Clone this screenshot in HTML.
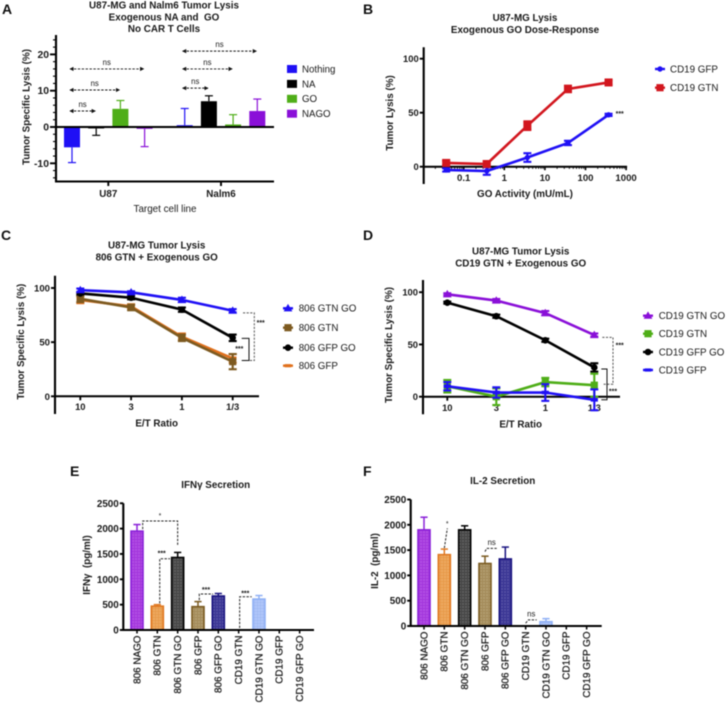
<!DOCTYPE html>
<html lang="en">
<head>
<meta charset="utf-8">
<title>Tumor lysis and cytokine secretion figure</title>
<style>
  html, body { margin: 0; padding: 0; background: #fff; }
  #figure { display: block; width: 726px; height: 703px; filter: blur(0.4px); }
  text { font-family: "Liberation Sans", sans-serif; fill: #1a1a1a; }
  .t { font-weight: 700; font-size: 9.85px; text-anchor: middle; }
  .l { font-weight: 700; font-size: 14px; fill: #111; }
</style>
</head>
<body>
<svg id="figure" xmlns="http://www.w3.org/2000/svg" width="726" height="703" viewBox="0 0 726 703">
  <defs>
    <marker id="arrow" viewBox="0 0 6 6" refX="5" refY="3" markerWidth="4.5" markerHeight="4.5" orient="auto-start-reverse">
      <path d="M0 0L6 3L0 6Z" fill="#111"></path>
    </marker>
    <pattern id="tex" width="3" height="3" patternUnits="userSpaceOnUse">
      <circle cx="1" cy="1" r="0.6" fill="#fff" fill-opacity="0.22"></circle>
      <circle cx="2.5" cy="2.5" r="0.4" fill="#000" fill-opacity="0.1"></circle>
    </pattern>
  </defs>
  <rect width="726" height="703" fill="#fff"></rect>

  <text class="l" x="2" y="14">A</text>
  <text class="l" x="363" y="14">B</text>
  <text class="l" x="1" y="240">C</text>
  <text class="l" x="363" y="240">D</text>
  <text class="l" x="70" y="476">E</text>
  <text class="l" x="363" y="476">F</text>

  <text class="t" x="164" y="8.5">U87-MG and Nalm6 Tumor Lysis</text>
  <text class="t" x="164" y="20.5" xml:space="preserve">Exogenous NA and  GO</text>
  <text class="t" x="164" y="32">No CAR T Cells</text>
  <text class="t" x="525" y="21">U87-MG Lysis</text>
  <text class="t" x="525" y="33">Exogenous GO Dose-Response</text>
  <text class="t" x="156.7" y="248.7">U87-MG Tumor Lysis</text>
  <text class="t" x="156.7" y="260.5">806 GTN + Exogenous GO</text>
  <text class="t" x="520.7" y="254.7">U87-MG Tumor Lysis</text>
  <text class="t" x="520.7" y="266.3">CD19 GTN + Exogenous GO</text>
  <text class="t" x="215.7" y="488">IFNγ Secretion</text>
  <text class="t" x="502.7" y="484">IL-2 Secretion</text>

  <text class="t" transform="translate(29.5 107) rotate(-90)">Tumor Specific Lysis (%)</text>
  <text class="t" x="165" y="212" style="font-weight:400">Target cell line</text>
  <text class="t" transform="translate(393 113) rotate(-90)">Tumor Lysis (%)</text>
  <text class="t" x="525" y="197">GO Activity (mU/mL)</text>
  <text class="t" transform="translate(24 341.7) rotate(-90)">Tumor Specific Lysis (%)</text>
  <text class="t" x="156.7" y="426.7">E/T Ratio</text>
  <text class="t" transform="translate(392 345) rotate(-90)">Tumor Specific Lysis (%)</text>
  <text class="t" x="520.7" y="427.7">E/T Ratio</text>
  <text class="t" transform="translate(90 565) rotate(-90)" xml:space="preserve">IFNγ  (pg/ml)</text>
  <text class="t" transform="translate(378 561) rotate(-90)" xml:space="preserve">IL-2  (pg/ml)</text>

  <g id="chart-layer"></g>
</svg>

<script>
/* ---------- Panel A data ---------- */
const aCategories = ['U87', 'Nalm6'];
const aSeriesNames = ['Nothing', 'NA', 'GO', 'NAGO'];
const aSeriesColors = ['#1f10f5', '#000000', '#4fae18', '#8a10d8'];
const aNothing = [-5.6, 0.5];
const aNA = [-0.4, 7.1];
const aGO = [5.0, 0.7];
const aNAGO = [-0.5, 4.4];
const aNothingErr = [4.2, 4.6];
const aNAErr = [1.9, 1.5];
const aGOErr = [2.3, 2.7];
const aNAGOErr = [4.9, 3.3];
const aTicks = [20, 10, 0, -10];

/* ---------- Panel B data ---------- */
const bDoses = [0.037, 0.37, 3.7, 37, 370];
const bGFP = [-3, -4, 8.5, 22, 48];
const bGFPErr = [1.5, 3.5, 4, 2, 1];
const bGTN = [3.5, 2.5, 38, 72, 78];
const bGTNErr = [2, 2.5, 4, 3, 2];
const bYTicks = [100, 50, 0];
const bXTicks = [0.1, 1, 10, 100, 1000];

/* ---------- Panel C data ---------- */
const cCategories = ['10', '3', '1', '1/3'];
const cGTNGO = [98, 96, 89, 79];
const cGTNGOErr = [1.5, 1, 2, 1.5];
const cGTN = [90, 82, 54, 32];
const cGTNErr = [3, 2.5, 3, 7];
const cGFPGO = [95, 91, 80, 54];
const cGFPGOErr = [1, 1.5, 2, 3];
const cGFP = [89, 83, 55, 35];
const cGFPErr = [3, 2, 3, 4];
const cYTicks = [100, 50, 0];

/* ---------- Panel D data ---------- */
const dCategories = ['10', '3', '1', '1/3'];
const dGTNGO = [98, 92, 80, 59];
const dGTNGOErr = [1, 1.5, 2, 1.5];
const dGTN = [10, 0, 14, 11];
const dGTNErr = [6, 8, 4, 11];
const dGFPGO = [90, 77, 54, 28];
const dGFPGOErr = [1, 1.5, 1.5, 4];
const dGFP = [10, 4, 4, -3];
const dGFPErr = [4, 5, 8, 10];
const dYTicks = [100, 50, 0];

/* ---------- Panels E and F data ---------- */
const secretionCategories = ['806 NAGO', '806 GTN', '806 GTN GO', '806 GFP', '806 GFP GO', 'CD19 GTN', 'CD19 GTN GO', 'CD19 GFP', 'CD19 GFP GO'];
const secretionFills = ['#a83ce0', '#eb9f50', '#4a4a4a', '#a8905f', '#3f3a98', '#a8c0f8', '#a8c0f8', '#a8c0f8', '#000000'];
const secretionEdges = ['#8a20d8', '#e07820', '#000000', '#7a5a20', '#1a1480', '#000000', '#8fb0f5', '#000000', '#000000'];
const eValues = [1950, 470, 1430, 460, 670, 0, 610, 0, 0];
const eErrors = [130, 30, 100, 100, 50, 0, 70, 0, 0];
const fValues = [1900, 1410, 1900, 1235, 1325, 0, 85, 0, 0];
const fErrors = [250, 110, 80, 145, 235, 0, 60, 0, 0];
const secretionTicks = [2500, 2000, 1500, 1000, 500, 0];

/* ---------- Axis functions ---------- */
const yA = v => 127 - v * 3.63;
const xA = (g, i) => 72 + g * 112.7 + i * 24.2;
const yB = v => 166.7 - v * 1.08;
const xB = d => 504.3 + 40.6 * Math.log10(d);
const yC = v => 396.3 - v * 1.083;
const xC = i => 80.3 + i * 50.8;
const yD = v => 396.7 - v * 1.045;
const xD = i => 447.3 + i * 49;
const yE = v => 630 - v * 0.0507;
const xE = i => 137 + i * 20.33;
const yF = v => 626 - v * 0.0506;
const xF = i => 424 + i * 20.33;

/* ---------- Drawing helpers ---------- */
const NS = 'http://www.w3.org/2000/svg';
const root = document.getElementById('chart-layer');

function mk(tag, attrs) {
  const el = document.createElementNS(NS, tag);
  for (const k in attrs) el.setAttribute(k, attrs[k]);
  root.appendChild(el);
  return el;
}
function seg(x1, y1, x2, y2, stroke, w, dash) {
  const a = { x1: x1, y1: y1, x2: x2, y2: y2, stroke: stroke, 'stroke-width': w };
  if (dash) a['stroke-dasharray'] = dash;
  return mk('line', a);
}
function label(x, y, s, size, weight, anchor) {
  const t = mk('text', { x: x, y: y, 'font-size': size, 'font-weight': weight, 'text-anchor': anchor });
  t.textContent = s;
  return t;
}

function yAxis(panel, x, top, bottom, scale, ticks, tickLen, fontSize) {
  const axis = seg(x, top, x, bottom, '#000', 2.1);
  
  
  ticks.forEach(v => {
    const tick = seg(x - tickLen, scale(v), x, scale(v), '#000', 1.9);
    
    
    const lab = label(x - tickLen - 1, scale(v) + 3.5, String(v), fontSize, 700, 'end');
    
    
  });
}

function marker(shape, x, y, color, size) {
  let m;
  if (shape === 'square') {
    m = mk('rect', { x: x - size, y: y - size, width: size * 2, height: size * 2, fill: color });
  } else if (shape === 'triangle') {
    const pts = [[0, -size * 1.15], [size * 1.15, size * 0.8], [-size * 1.15, size * 0.8]];
    m = mk('polygon', { points: pts.map(p => (x + p[0]) + ',' + (y + p[1])).join(' '), fill: color });
  } else if (shape === 'dash') {
    m = mk('rect', { x: x - size, y: y - size / 2, width: size * 2, height: size, fill: color });
  } else {
    m = mk('circle', { cx: x, cy: y, r: size, fill: color });
  }
  return m;
}

function lineSeries(name, xs, values, errors, yScale, color, shape, size) {
  const path = mk('polyline', {
    points: values.map((v, i) => xs[i] + ',' + yScale(v)).join(' '),
    fill: 'none', stroke: color, 'stroke-width': 2.6
  });
  
  
  values.forEach((v, i) => {
    const whisker = seg(xs[i], yScale(v - errors[i]), xs[i], yScale(v + errors[i]), color, 2.1);
    
    
    const capHi = seg(xs[i] - 4, yScale(v + errors[i]), xs[i] + 4, yScale(v + errors[i]), color, 2.1);
    
    
    const capLo = seg(xs[i] - 4, yScale(v - errors[i]), xs[i] + 4, yScale(v - errors[i]), color, 2.1);
    
    
    const pt = marker(shape, xs[i], yScale(v), color, size);
    
    
  });
}

function lineLegend(name, lineX, textX, y, text, color, shape, size) {
  const ln = seg(lineX, y, lineX + 10, y, color, 2.4);
  
  
  const mkr = marker(shape, lineX + 5, y, color, size);
  
  
  const t = label(textX, y + 3.4, text, 9.8, 400, 'start');
  
  
}

function note(x, y, s, size) {
  const t = label(x, y, s, size, 400, 'middle');
  
  
}
function stars(x, y) {
  const t = label(x, y + 3, '***', 7, 700, 'middle');
  
  
}
function bracket(pts, color, dash, w) {
  const p = mk('polyline', {
    points: pts.map(q => q[0] + ',' + q[1]).join(' '),
    fill: 'none', stroke: color, 'stroke-width': w
  });
  if (dash) p.setAttribute('stroke-dasharray', dash);
  
  
}

/* ---------- Panel A ---------- */
(function () {
  const series = [aNothing, aNA, aGO, aNAGO];
  const errs = [aNothingErr, aNAErr, aGOErr, aNAGOErr];
  for (let v = -14; v <= 24; v += 2) {
    const minor = seg(53, yA(v), 56, yA(v), '#000', 1.1);
    
    
  }
  yAxis('panel-a', 56, 35, 182, yA, aTicks, 6, 10.4);
  const base = seg(55, 181.5, 274, 181.5, '#000', 2);
  
  
  aCategories.forEach((c, g) => {
    const cx = (xA(g, 1) + xA(g, 2)) / 2;
    const tick = seg(cx, 181.5, cx, 186, '#000', 1.9);
    
    
    const lab = label(cx, 197, c, 9.8, 700, 'middle');
    
    
    series.forEach((s, i) => {
      const x = xA(g, i), v = s[g], e = errs[i][g], color = aSeriesColors[i];
      const tip = v >= 0 ? v + e : v - e;
      const whisker = seg(x, yA(v), x, yA(tip), color, 1.2);
      
      
      const cap = seg(x - 4, yA(tip), x + 4, yA(tip), color, 1.2);
      
      
      const bar = mk('rect', {
        x: x - 8, y: Math.min(yA(v), yA(0)), width: 16,
        height: Math.abs(yA(v) - yA(0)), fill: color
      });
      
      
    });
  });
  const zero = seg(55, yA(0), 274, yA(0), '#000', 2);
  
  

  aSeriesNames.forEach((n, i) => {
    const y = 69 + i * 14.9;
    const sw = mk('rect', { x: 287, y: y - 4, width: 10, height: 8, fill: aSeriesColors[i] });
    
    
    const t = label(302, y + 3.4, n, 9.7, 400, 'start');
    
    
  });

  const arrows = [
    [0, 0, 1, 4.4], [0, 0, 2, 10.2], [0, 0, 3, 16],
    [1, 0, 1, 10.7], [1, 0, 2, 16], [1, 0, 3, 20.9]
  ];
  arrows.forEach(a => {
    const x1 = xA(a[0], a[1]) - 2, x2 = xA(a[0], a[2]) - 1, y = yA(a[3]);
    const ar = seg(x1, y, x2, y, '#111', 0.95, '2.4 1.5');
    ar.setAttribute('marker-start', 'url(#arrow)');
    ar.setAttribute('marker-end', 'url(#arrow)');
    
    
    note((x1 + x2) / 2, y - 4, 'ns', 7.8);
  });
})();

/* ---------- Panel B ---------- */
(function () {
  const x0 = xB(0.01), x1 = xB(1000);
  yAxis('panel-b', 423.7, 47.3, 184, yB, bYTicks, 4, 9.4);
  const ax = seg(x0, yB(0), x1 + 1, yB(0), '#000', 2);
  
  
  for (let dec = 0.01; dec < 999; dec *= 10) {
    for (let m = 2; m <= 9; m++) {
      const minor = seg(xB(dec * m), yB(0), xB(dec * m), yB(0) + 2.2, '#000', 0.9);
      
      
    }
  }
  bXTicks.forEach(d => {
    const tick = seg(xB(d), yB(0), xB(d), yB(0) + 3.5, '#000', 1.6);
    
    
    const lab = label(xB(d), 181, String(d), 9.6, 700, 'middle');
    
    
  });
  const xs = bDoses.map(xB);
  lineSeries('cd19-gfp', xs, bGFP, bGFPErr, yB, '#1f10f5', 'circle', 2.7);
  lineSeries('cd19-gtn', xs, bGTN, bGTNErr, yB, '#d2161e', 'square', 4);
  lineLegend('cd19-gfp', 655, 670, 69, 'CD19 GFP', '#1f10f5', 'circle', 2.7);
  lineLegend('cd19-gtn', 655, 670, 87.7, 'CD19 GTN', '#d2161e', 'square', 3.6);
  stars(619.7, 113);
})();

/* ---------- Panels C and D shared axis ---------- */
function categoryAxis(panel, cats, xScale, y, xStart, xEnd, labelY) {
  const ax = seg(xStart, y, xEnd, y, '#000', 2);
  
  
  cats.forEach((c, i) => {
    const tick = seg(xScale(i), y, xScale(i), y + 4, '#000', 1.8);
    
    
    const lab = label(xScale(i), labelY, c, 9.4, 700, 'middle');
    
    
  });
}

/* ---------- Panel C ---------- */
(function () {
  yAxis('panel-c', 55, 275.7, 414, yC, cYTicks, 4, 9.6);
  categoryAxis('panel-c', cCategories, xC, yC(0), 55, 259, 410);
  const xs = cCategories.map((c, i) => xC(i));
  lineSeries('806-gfp', xs, cGFP, cGFPErr, yC, '#e0701c', 'dash', 3.8);
  lineSeries('806-gtn', xs, cGTN, cGTNErr, yC, '#7d5a20', 'square', 3.6);
  lineSeries('806-gfp-go', xs, cGFPGO, cGFPGOErr, yC, '#000000', 'circle', 3.3);
  lineSeries('806-gtn-go', xs, cGTNGO, cGTNGOErr, yC, '#1f10f5', 'triangle', 3.8);
  lineLegend('806-gtn-go', 283, 298.7, 308.3, '806 GTN GO', '#1f10f5', 'triangle', 3.8);
  lineLegend('806-gtn', 283, 298.7, 327.7, '806 GTN', '#7d5a20', 'square', 3.6);
  lineLegend('806-gfp-go', 283, 298.7, 347.7, '806 GFP GO', '#000000', 'circle', 3.3);
  lineLegend('806-gfp', 283, 298.7, 365.7, '806 GFP', '#e0701c', 'dash', 3.2);
  bracket([[243, yC(77)], [254.3, yC(77)], [254.3, yC(33)], [249, yC(33)]], '#555', '2.2 1.4', 1);
  bracket([[241.7, yC(53.5)], [249, yC(53.5)], [249, yC(33)], [241.7, yC(33)]], '#111', null, 1);
  stars(239.3, 348);
  stars(260.7, 322);
})();

/* ---------- Panel D ---------- */
(function () {
  yAxis('panel-d', 423, 280, 414.3, yD, dYTicks, 4, 9.4);
  categoryAxis('panel-d', dCategories, xD, yD(0), 423, 620, 411);
  const xs = dCategories.map((c, i) => xD(i));
  lineSeries('cd19-gtn-go', xs, dGTNGO, dGTNGOErr, yD, '#8a10d8', 'triangle', 3.8);
  lineSeries('cd19-gfp-go', xs, dGFPGO, dGFPGOErr, yD, '#000000', 'circle', 3.3);
  lineSeries('cd19-gtn', xs, dGTN, dGTNErr, yD, '#4fae18', 'square', 3.6);
  lineSeries('cd19-gfp', xs, dGFP, dGFPErr, yD, '#1f10f5', 'dash', 3.6);
  lineLegend('cd19-gtn-go', 643, 658.7, 315.7, 'CD19 GTN GO', '#8a10d8', 'triangle', 3.8);
  lineLegend('cd19-gtn', 643, 658.7, 333.7, 'CD19 GTN', '#4fae18', 'square', 3.6);
  lineLegend('cd19-gfp-go', 643, 658.7, 352, 'CD19 GFP GO', '#000000', 'circle', 3.3);
  lineLegend('cd19-gfp', 643, 658.7, 370, 'CD19 GFP', '#1f10f5', 'dash', 3.2);
  bracket([[602.3, yD(56.8)], [613, yD(56.8)], [613, yD(11.9)], [602.3, yD(11.9)]], '#555', '2.2 1.4', 1);
  bracket([[601.3, yD(26.5)], [607, yD(26.5)], [607, yD(-2.9)], [601.3, yD(-2.9)]], '#111', null, 1);
  stars(619.7, 344.3);
  stars(613, 390.7);
})();

/* ---------- Panels E and F ---------- */
function secretionChart(panel, values, errors, xScale, yScale, axisX, xEnd) {
  yAxis(panel, axisX, yScale(2500), yScale(0) + 1, yScale, secretionTicks, 3.5, 9.9);
  values.forEach((v, i) => {
    const x = xScale(i);
    if (v > 0) {
      const tip = v + errors[i];
      const whisker = seg(x, yScale(v), x, yScale(tip), secretionEdges[i], 1.5);
      
      
      const cap = seg(x - 3.6, yScale(tip), x + 3.6, yScale(tip), secretionEdges[i], 1.5);
      
      
      const bar = mk('rect', {
        x: x - 6, y: yScale(v), width: 12, height: yScale(0) - yScale(v),
        fill: secretionFills[i], stroke: secretionEdges[i], 'stroke-width': 1.6
      });
      
      
      const tex = mk('rect', {
        x: x - 5.2, y: yScale(v) + 0.8, width: 10.4, height: yScale(0) - yScale(v) - 0.8,
        fill: 'url(#tex)'
      });
      
      
    }
    const tick = seg(x, yScale(0), x, yScale(0) + 3.5, '#000', 1.5);
    
    
    const lab = mk('text', {
      transform: 'translate(' + (x + 3.4) + ' ' + (yScale(0) + 5.5) + ') rotate(-90)',
      'font-size': 9.9, 'font-weight': 400, 'text-anchor': 'end', stroke: '#1a1a1a', 'stroke-width': 0.25
    });
    lab.textContent = secretionCategories[i];
    
    
  });
  const ax = seg(axisX, yScale(0), xEnd, yScale(0), '#000', 2);
  
  
}

secretionChart('panel-e', eValues, eErrors, xE, yE, 123.3, 314);
secretionChart('panel-f', fValues, fErrors, xF, yF, 410.7, 601.7);

bracket([[xE(0) + 5.7, yE(1990)], [xE(0) + 5.7, yE(2150)], [xE(2), yE(2150)], [xE(2), yE(1660)]], '#222', '2.4 1.4', 1);
note(160, 518, '*', 7);
bracket([[xE(1) + 2.4, yE(525)], [xE(1) + 2.4, yE(1405)], [xE(2) - 7.7, yE(1405)]], '#222', '2.4 1.4', 1);
stars(161.7, 552.7);
bracket([[xE(3) + 1.3, yE(590)], [xE(3) + 1.3, yE(710)], [xE(4) - 5.3, yE(710)]], '#222', '2.4 1.4', 1);
stars(206, 589);
bracket([[xE(5) + 1, yE(40)], [xE(5) + 1, yE(655)], [xE(6) - 7.3, yE(655)]], '#222', '2.4 1.4', 1);
stars(245.3, 592.7);

bracket([[xF(1), yF(1540)], [xF(1) + 3, yF(1930)]], '#222', '2.4 1.4', 1);
note(447.3, 526, '*', 7);
bracket([[xF(3), yF(1470)], [xF(3) + 1.7, yF(1535)], [xF(4) - 8.6, yF(1535)]], '#222', '2.4 1.4', 1);
note(491.7, 545, 'ns', 7.8);
bracket([[xF(5), yF(55)], [xF(5) + 2.7, yF(120)], [xF(6) - 9.3, yF(120)]], '#222', '2.4 1.4', 1);
note(531.3, 616.5, 'ns', 7.8);
</script>
</body>
</html>
